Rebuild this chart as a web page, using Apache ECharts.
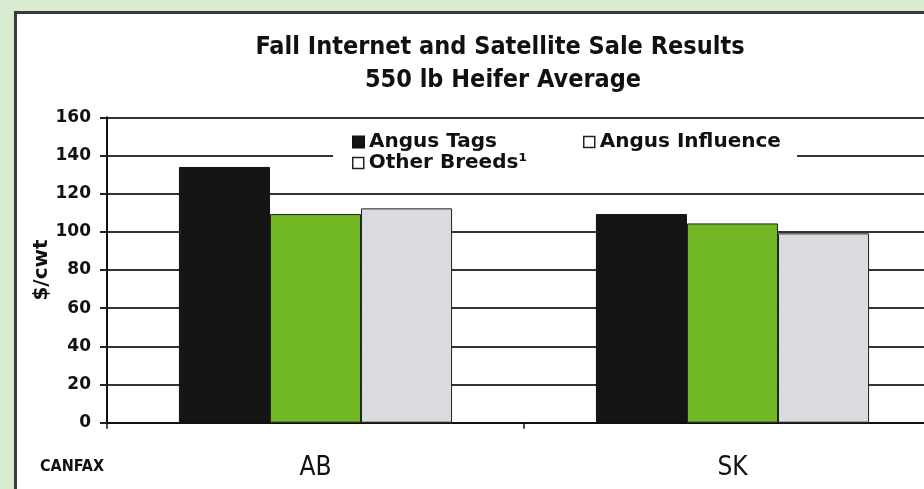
<!DOCTYPE html>
<html>
<head>
<meta charset="utf-8">
<script src="https://cdn.jsdelivr.net/npm/echarts@6/dist/echarts.min.js"></script>
<style>
  html, body { margin: 0; padding: 0; }
  #frame { position: relative; width: 924px; height: 489px; background: #d8ecd0; overflow: hidden; }
  #panel { position: absolute; left: 14px; top: 11px; width: 960px; height: 500px; background: #fff;
           border-left: 3px solid #3a3a3a; border-top: 3px solid #3a3a3a; }
  #chart { position: absolute; left: 0; top: 0; width: 960px; height: 489px; }
</style>
</head>
<body>
<div id="frame">
  <div id="panel"></div>
  <div id="chart"></div>
</div>
<script>
// Province categories and 550 lb heifer prices ($/cwt)
const categories = ['AB', 'SK'];
const angusTags = [134, 109.3];
const angusInfluence = [109.3, 104.4];
const otherBreeds = [112.3, 99.2];

// Value axis settings
const yMin = 0, yMax = 160, yStep = 20;

const narrow = '"Liberation Sans Narrow", "DejaVu Sans Condensed", Arial, sans-serif';
const wideBold = '"DejaVu Sans", "Liberation Sans", sans-serif';

const chart = echarts.init(document.getElementById('chart'), null, { renderer: 'canvas' });

const legendText = { fontFamily: wideBold, fontWeight: 'bold', fontSize: 20, color: '#111', lineHeight: 20 };
const hollowIcon = { color: '#fff', borderColor: '#222', borderWidth: 1.5 };

chart.setOption({
  backgroundColor: 'transparent',
  animation: false,
  // plot area runs past the right edge of the visible frame
  grid: { left: 107, top: 117.3, right: 19, height: 305.4, containLabel: false },
  xAxis: {
    type: 'category',
    data: categories,
    axisLine: { lineStyle: { color: '#111', width: 2 } },
    axisTick: { show: true, alignWithLabel: false, length: 6, lineStyle: { color: '#111', width: 1.5 } },
    axisLabel: { fontFamily: narrow, fontSize: 26, color: '#111', margin: 33 },
    splitLine: { show: false }
  },
  yAxis: {
    type: 'value',
    min: yMin, max: yMax, interval: yStep,
    name: '$/cwt',
    nameLocation: 'middle',
    nameGap: 55,
    nameMoveOverlap: false,
    nameTextStyle: { fontFamily: wideBold, fontWeight: 'bold', fontSize: 20, color: '#111' },
    axisLine: { show: true, lineStyle: { color: '#111', width: 2 } },
    axisTick: { show: true, length: 7, lineStyle: { color: '#222', width: 2 } },
    axisLabel: { fontFamily: wideBold, fontWeight: 'bold', fontSize: 17, color: '#111', margin: 16 },
    splitLine: { show: true, lineStyle: { color: '#333', width: 2 } }
  },
  legend: [
    { data: [{ name: 'Angus Tags' }], left: 352, top: 132, padding: 0, itemWidth: 11, itemHeight: 11, itemGap: 5,
      icon: 'rect', textStyle: legendText, selectedMode: false },
    { data: [{ name: 'Angus Influence', itemStyle: hollowIcon }], left: 583, top: 132, padding: 0, itemWidth: 11, itemHeight: 11,
      icon: 'rect', textStyle: legendText, selectedMode: false },
    { data: [{ name: 'Other Breeds', itemStyle: hollowIcon }], left: 352, top: 153, padding: 0, itemWidth: 11, itemHeight: 11,
      icon: 'rect', textStyle: legendText, selectedMode: false,
      formatter: function (name) { return name + '\u00B9'; } }
  ],
  graphic: [
    // white area behind the legend, interrupting the gridline
    { type: 'rect', z: 3, silent: true, shape: { x: 333, y: 128, width: 464, height: 50 }, style: { fill: '#fff' } },
    { type: 'text', z: 5, x: 500, y: 47, style: { text: 'Fall Internet and Satellite Sale Results', fontFamily: narrow,
      fontWeight: 'bold', fontSize: 25, fill: '#111', textAlign: 'center', textVerticalAlign: 'middle' } },
    { type: 'text', z: 5, x: 503, y: 80, style: { text: '550 lb Heifer Average', fontFamily: narrow,
      fontWeight: 'bold', fontSize: 25, fill: '#111', textAlign: 'center', textVerticalAlign: 'middle' } },
    { type: 'text', z: 5, x: 40, y: 467, style: { text: 'CANFAX', fontFamily: narrow,
      fontWeight: 'bold', fontSize: 16, fill: '#111', textAlign: 'left', textVerticalAlign: 'middle' } }
  ],
  series: [
    { name: 'Angus Tags', type: 'bar', data: angusTags, barGap: '0%', barCategoryGap: '34.5%',
      itemStyle: { color: '#151515', borderColor: '#111', borderWidth: 1 } },
    { name: 'Angus Influence', type: 'bar', data: angusInfluence,
      itemStyle: { color: '#70b723', borderColor: '#222', borderWidth: 1 } },
    { name: 'Other Breeds', type: 'bar', data: otherBreeds,
      itemStyle: { color: '#d9dbe0', borderColor: '#222', borderWidth: 1 } }
  ]
});
</script>
</body>
</html>
